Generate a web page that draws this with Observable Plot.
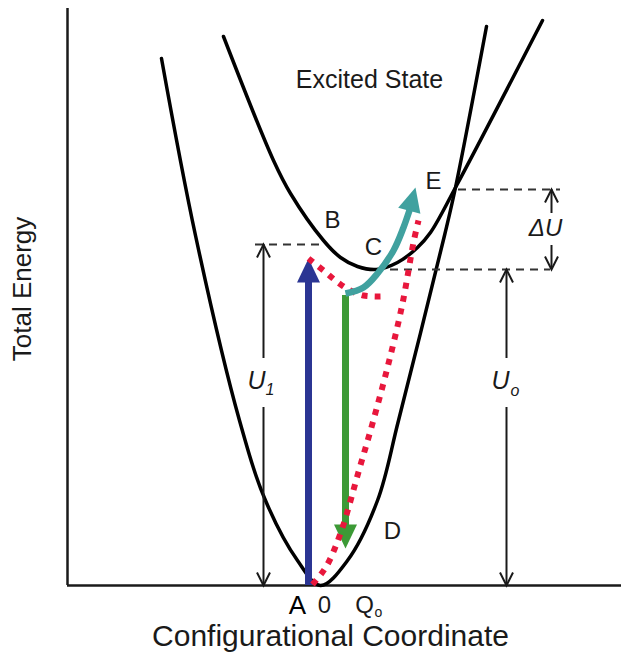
<!DOCTYPE html>
<html>
<head>
<meta charset="utf-8">
<script src="https://cdn.jsdelivr.net/npm/d3@7"></script>
<script src="https://cdn.jsdelivr.net/npm/@observablehq/plot@0.6"></script>
<style>
  body { margin: 0; background: #fff; }
  #chart svg { display: block; }
</style>
</head>
<body>
<div id="chart"></div>
<script>
// Configurational coordinate diagram: ground and excited state potential curves
// (arbitrary units for both the coordinate Q and the total energy).
const qDomain = [-24.6, 30.8];
const eDomain = [0, 57.7];

// Ground state potential curve
const groundQ = [-15.2, -11.8, -7.4, -4.8, -1.6, 0.7, 3.4, 6.4, 8.5, 13.1, 14.2, 17.3];
const groundE = [52.7, 35.0, 16.5, 8.5, 2.5, 0, 2.5, 8.5, 16.5, 35.0, 39.8, 55.9];

// Excited state potential curve
const excitedQ = [-9.0, -4.0, -2.3, 1.0, 2.7, 4.4, 6.3, 8.4, 10.4, 11.7, 14.2, 22.9];
const excitedE = [54.9, 42.5, 39.2, 34.5, 32.8, 31.9, 31.6, 32.3, 33.8, 35.3, 39.8, 56.5];

// Energy levels
const levelB = 34.1;   // absorption end point B
const levelC = 31.6;   // relaxed excited state C
const levelE = 39.6;   // crossing point E

// Dashed reference lines: [from Q, to Q, energy]
const dashQ1 = [-5.8, 7.7, 14.5];
const dashQ2 = [1.0, 23.7, 24.7];
const dashE = [levelB, levelC, levelE];

// Double-headed energy arrows (each drawn as two halves leaving a gap for its label)
const uArrowQ = [-5.0, -5.0, 19.3, 19.3, 23.8, 23.8];
const uArrowFrom = [22.7, 17.8, 22.7, 17.8, 37.2, 34.0];
const uArrowTo = [levelB, 0, levelC, 0, levelE, levelC];

// Absorption (A -> B) and emission (C -> D)
const absorbQ = -0.5;
const absorbE = [0, 32.7];
const emitQ = 3.2;
const emitE = [29.0, 3.7];

// Thermal activation path from C towards the crossing point E
const thermalQ = [3.2, 5.0, 6.4, 8.0, 9.0, 9.7, 10.0];
const thermalE = [29.2, 29.8, 31.2, 33.5, 35.8, 37.8, 38.6];
const thermalTip = [10.2, 39.8];

// Relaxation paths (dotted)
const relaxBCQ = [-0.5, 1.0, 2.2, 3.5, 5.0, 6.7];
const relaxBCE = [32.7, 31.5, 30.5, 29.6, 29.0, 28.9];
const relaxEAQ = [-0.1, 0.8, 1.5, 2.8, 4.6, 5.9, 7.5, 8.9, 10.0, 10.5];
const relaxEAE = [0.1, 1.2, 2.3, 5.5, 11.7, 16.2, 22.2, 28.2, 34.3, 36.5];

// Point labels
const pointLabels = ["B", "C", "D", "E"];
const pointLabelQ = [1.9, 6.0, 7.9, 12.0];
const pointLabelE = [36.5, 33.8, 5.4, 40.4];

// Coordinate tick labels along the Q axis
const tickText = ["A", "0", "Q"];
const tickQ = [-1.6, 1.1, 5.1];

const zip = (xs, ys) => xs.map((x, i) => ({q: x, e: ys[i]}));
const ground = zip(groundQ, groundE);
const excited = zip(excitedQ, excitedE);
const dashes = dashE.map((e, i) => ({q1: dashQ1[i], q2: dashQ2[i], e}));
const uArrows = uArrowQ.map((q, i) => ({q, from: uArrowFrom[i], to: uArrowTo[i], up: uArrowTo[i] > uArrowFrom[i]}));
const thermal = zip(thermalQ, thermalE);
const relaxBC = zip(relaxBCQ, relaxBCE);
const relaxEA = zip(relaxEAQ, relaxEAE);
const pointLabelRows = pointLabels.map((t, i) => ({t, q: pointLabelQ[i], e: pointLabelE[i]}));
const ticks = tickText.map((t, i) => ({t, q: tickQ[i]}));

// Arrowhead shapes: tip at the origin, pointing up
const solidHead = {draw(ctx) { ctx.moveTo(0, 0); ctx.lineTo(11.5, 24); ctx.lineTo(-11.5, 24); ctx.closePath(); }};
const openHead = {draw(ctx) { ctx.moveTo(-6.5, 13); ctx.lineTo(0, 0); ctx.lineTo(6.5, 13); }};

const ink = "#1a1a1a";
const blue = "#2b3593";
const green = "#3c9a36";
const teal = "#40a19f";
const red = "#e8173c";

const chart = Plot.plot({
  width: 621,
  height: 658,
  marginLeft: 67,
  marginRight: 0,
  marginTop: 8,
  marginBottom: 73,
  x: {domain: qDomain, axis: null},
  y: {domain: eDomain, axis: null},
  style: {fontFamily: "'Liberation Sans', Arial, Helvetica, sans-serif", background: "#fff", color: ink},
  marks: [
    // frame axes
    Plot.ruleX([qDomain[0]], {y1: eDomain[0], y2: eDomain[1], stroke: ink, strokeWidth: 2.5}),
    Plot.ruleY([0], {stroke: ink, strokeWidth: 2.5}),

    // potential curves
    Plot.line(ground, {x: "q", y: "e", curve: "catmull-rom", stroke: "#000", strokeWidth: 3.5}),
    Plot.line(excited, {x: "q", y: "e", curve: "catmull-rom", stroke: "#000", strokeWidth: 3.5}),

    // dashed level lines
    Plot.ruleY(dashes, {x1: "q1", x2: "q2", y: "e", stroke: "#333", strokeWidth: 2, strokeDasharray: "8,6"}),

    // energy difference arrows
    Plot.ruleX(uArrows, {x: "q", y1: "from", y2: "to", stroke: ink, strokeWidth: 2}),
    Plot.dot(uArrows, {x: "q", y: "to", symbol: openHead, rotate: d => d.up ? 0 : 180, fill: "none", stroke: ink, strokeWidth: 2}),

    // absorption arrow
    Plot.ruleX([absorbQ], {y1: absorbE[0], y2: absorbE[1] - 1.5, stroke: blue, strokeWidth: 7}),
    Plot.dot([absorbQ], {x: d => d, y: absorbE[1], symbol: solidHead, fill: blue, stroke: "none"}),

    // emission arrow
    Plot.ruleX([emitQ], {y1: emitE[0], y2: emitE[1] + 1.5, stroke: green, strokeWidth: 7}),
    Plot.dot([emitQ], {x: d => d, y: emitE[1], symbol: solidHead, rotate: 180, fill: green, stroke: "none"}),

    // dotted relaxation paths
    Plot.line(relaxBC, {x: "q", y: "e", curve: "catmull-rom", stroke: red, strokeWidth: 6, strokeDasharray: "6,7", strokeLinecap: "butt"}),
    Plot.line(relaxEA, {x: "q", y: "e", curve: "catmull-rom", stroke: red, strokeWidth: 6, strokeDasharray: "6,7", strokeLinecap: "butt"}),

    // thermal activation arrow
    Plot.line(thermal, {x: "q", y: "e", curve: "catmull-rom", stroke: teal, strokeWidth: 6.5, strokeLinecap: "butt"}),
    Plot.dot([thermalTip], {x: d => d[0], y: d => d[1], symbol: solidHead, rotate: 15, fill: teal, stroke: "none"}),

    // labels
    Plot.text(["Excited State"], {x: 5.6, y: 50.6, text: d => d, fontSize: 25, fill: ink}),
    Plot.text(pointLabelRows, {x: "q", y: "e", text: "t", fontSize: 24, fill: ink}),
    Plot.text(["U"], {x: -5.7, y: 20.5, text: d => d, fontSize: 25, fontStyle: "italic", fill: ink}),
    Plot.text(["1"], {x: -4.8, y: 19.6, text: d => d, textAnchor: "start", fontSize: 16, fontStyle: "italic", fill: ink}),
    Plot.text(["U"], {x: 18.7, y: 20.5, text: d => d, fontSize: 25, fontStyle: "italic", fill: ink}),
    Plot.text(["o"], {x: 19.7, y: 19.5, text: d => d, textAnchor: "start", fontSize: 16, fontStyle: "italic", fill: ink}),
    Plot.text(["ΔU"], {x: 23.2, y: 35.7, text: d => d, fontSize: 24, fontStyle: "italic", fill: ink}),

    // Q axis tick labels
    Plot.text(ticks, {x: "q", y: 0, text: "t", dy: 20, fontSize: d => d.t === "A" ? 26 : 24, fontWeight: d => d.t === "A" ? "bold" : "normal", fill: d => d.t === "A" ? "#000" : ink}),
    Plot.text(["o"], {x: 6.1, y: 0, text: d => d, textAnchor: "start", dy: 27, fontSize: 14, fill: ink}),

    // axis titles
    Plot.text(["Total Energy"], {frameAnchor: "left", textAnchor: "middle", lineAnchor: "middle", text: d => d, rotate: -90, dx: -45, dy: -8, fontSize: 26, fill: ink}),
    Plot.text(["Configurational Coordinate"], {frameAnchor: "bottom", textAnchor: "middle", lineAnchor: "middle", text: d => d, dx: -14, dy: 51, fontSize: 30, fill: ink})
  ]
});

document.getElementById("chart").append(chart);
</script>
</body>
</html>
